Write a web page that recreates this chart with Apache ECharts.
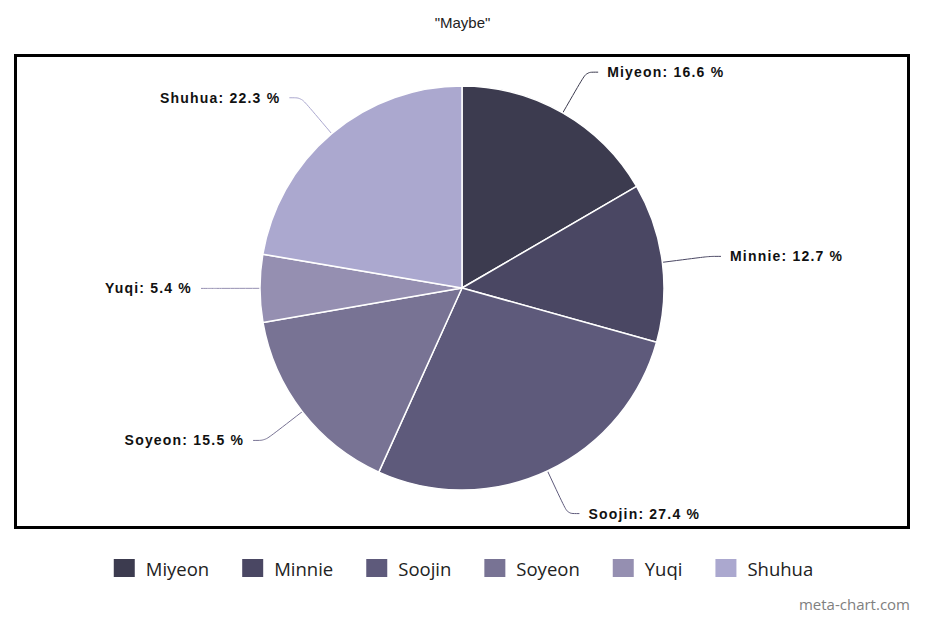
<!DOCTYPE html>
<html><head><meta charset="utf-8">
<script src="https://cdn.jsdelivr.net/npm/echarts@6/dist/echarts.min.js"></script>
<style>html,body{margin:0;padding:0;background:#fff}#c{width:925px;height:617px}
#c svg text[style*="bold"]{letter-spacing:1.2px}</style>
</head><body><div id="c"></div>
<script>
const categories = ["Miyeon","Minnie","Soojin","Soyeon","Yuqi","Shuhua"];
const values = [16.6,12.7,27.4,15.5,5.4,22.3];
const colors = ["#3c3b4f","#4a4763","#5e5a7b","#787394","#958fb1","#aba8cf"];
const chart = echarts.init(document.getElementById('c'), null, {renderer:'svg'});
chart.setOption({
  animation:false,
  color: colors,
  title:{text:'"Maybe"', left:'center', top:10, textStyle:{fontFamily:'Liberation Sans', fontSize:15, fontWeight:'normal', color:'#222'}},
  graphic:[
    {type:'rect', shape:{x:15.5,y:55.5,width:893,height:472}, style:{fill:null, stroke:'#000', lineWidth:3}, z:-1},
    {type:'text', right:15, top:596, style:{text:'meta-chart.com', fill:'#808080', font:'15px "Open Sans"'}}
  ],
  legend:{top:552, left:'center', itemWidth:23, itemHeight:20, itemGap:31, icon:'rect',
    textStyle:{fontFamily:'Open Sans', fontSize:18.5, color:'#222', padding:[0,0,0,5]}},
  series:[{
    type:'pie', center:[462,288], radius:[0,202], startAngle:90, clockwise:true,
    data: categories.map((n,i)=>({name:n, value:values[i]})),
    itemStyle:{borderColor:'#fff', borderWidth:1.5},
    label:{formatter:p=>p.name+': '+p.value+' %', fontFamily:'Liberation Sans', fontWeight:'bold', fontSize:14, color:'#111', padding:[0,4]},
    labelLine:{length:47, length2:12, smooth:0.3, lineStyle:{width:1}},
    emphasis:{disabled:true}
  }]
});
</script></body></html>
